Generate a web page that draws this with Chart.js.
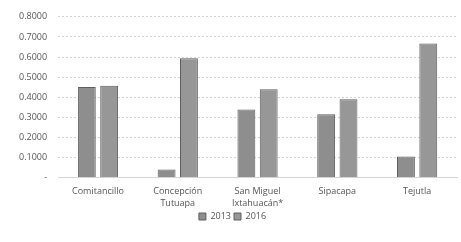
<!DOCTYPE html>
<html>
<head>
<meta charset="utf-8">
<script src="https://cdn.jsdelivr.net/npm/chart.js@4/dist/chart.umd.min.js"></script>
<style>
  html, body { margin: 0; padding: 0; background: #fff; }
  #wrap { width: 461px; height: 242px; }
</style>
</head>
<body>
<div id="wrap"><canvas id="grafico" width="461" height="242"></canvas></div>
<script>
var municipios = [["Comitancillo"], ["Concepción", "Tutuapa"], ["San Miguel", "Ixtahuacán*"], ["Sipacapa"], ["Tejutla"]];
var valores2013 = [0.451, 0.040, 0.339, 0.315, 0.105];
var valores2016 = [0.457, 0.594, 0.440, 0.390, 0.667];
var series = ["2013", "2016"];

var gris = "#555";
var fuente = { family: "'Open Sans', 'Liberation Sans', sans-serif", size: 9, lineHeight: 1.3 };

var chart = new Chart(document.getElementById("grafico"), {
    type: "bar",
    data: {
        labels: municipios,
        datasets: [{
            label: series[0],
            data: valores2013,
            backgroundColor: "#8e8e8e",
            borderColor: "#5e5e5e",
            borderWidth: 1
        }, {
            label: series[1],
            data: valores2016,
            backgroundColor: "#979797",
            borderColor: "#5e5e5e",
            borderWidth: 1
        }]
    },
    options: {
        responsive: false,
        animation: false,
        layout: { padding: { left: 8, right: 4, top: 4, bottom: 11 } },
        datasets: { bar: { categoryPercentage: 0.56, barPercentage: 0.8 } },
        plugins: {
            tooltip: { enabled: false },
            legend: {
                position: "bottom",
                labels: { color: gris, font: fuente, boxWidth: 7, boxHeight: 7, padding: 3 }
            }
        },
        scales: {
            x: {
                grid: { display: false },
                border: { color: "#d4d4d4", dash: [2, 2] },
                ticks: { color: gris, font: fuente, maxRotation: 0, padding: 0 }
            },
            y: {
                min: 0,
                max: 0.8,
                grid: { color: "#d4d4d4", tickLength: 0 },
                border: { display: false, dash: [2, 2] },
                ticks: {
                    stepSize: 0.1,
                    color: gris,
                    font: fuente,
                    padding: 11,
                    callback: function (v) { return v === 0 ? "-" : v.toFixed(4); }
                }
            }
        }
    }
});
</script>
</body>
</html>
